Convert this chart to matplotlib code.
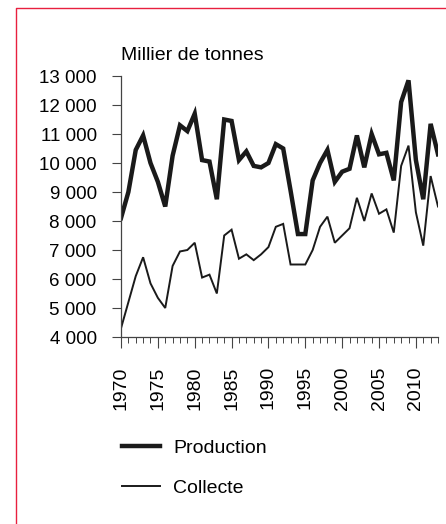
import numpy as np
import matplotlib.pyplot as plt
from matplotlib.ticker import MultipleLocator, FuncFormatter
from matplotlib.lines import Line2D

plt.rcParams['font.family'] = ['Liberation Sans', 'DejaVu Sans']

years = list(range(1970, 2014))
production = [8100, 9000, 10450, 10950, 10000, 9350, 8500, 10250, 11300, 11100,
              11700, 10100, 10050, 8750, 11500, 11450, 10100, 10400, 9900, 9850,
              10000, 10650, 10500, 9050, 7550, 7550, 9400, 10000, 10450, 9350,
              9700, 9800, 10950, 9850, 11000, 10300, 10350, 9400, 12100, 12850,
              10100, 8750, 11350, 10300]
collecte = [4300, 5200, 6100, 6750, 5850, 5350, 5000, 6450, 6950, 7000,
            7250, 6050, 6150, 5500, 7500, 7700, 6700, 6850, 6650, 6850,
            7100, 7800, 7900, 6500, 6500, 6500, 7000, 7800, 8150, 7250,
            7500, 7750, 8800, 8000, 8950, 8250, 8400, 7600, 9900, 10600,
            8300, 7150, 9550, 8500]

W, H = 446, 524
fig = plt.figure(figsize=(W / 100, H / 100), dpi=100)
ax = fig.add_axes([121 / W, 1 - 337 / H, (438 - 121) / W, (337 - 76) / H])

ink = '#1a1a1a'
ax.plot(years, production, color=ink, lw=3.2, solid_joinstyle='miter', label='Production')
ax.plot(years, collecte, color=ink, lw=1.4, solid_joinstyle='miter', label='Collecte')

ax.set_xlim(1970, 2013)
ax.set_ylim(4000, 13000)

for side in ['top', 'right']:
    ax.spines[side].set_visible(False)
for side in ['left', 'bottom']:
    ax.spines[side].set_color('#444444')
    ax.spines[side].set_linewidth(0.9)

ax.yaxis.set_major_locator(MultipleLocator(1000))
ax.yaxis.set_major_formatter(FuncFormatter(lambda v, p: f'{v:,.0f}'.replace(',', ' ')))
ax.xaxis.set_major_locator(MultipleLocator(5))
ax.xaxis.set_minor_locator(MultipleLocator(1))

ax.tick_params(axis='y', which='major', direction='out', length=6.5, width=0.8,
               color='#444444', labelsize=13.5, pad=11)
ax.tick_params(axis='x', which='major', direction='out', length=8, width=0.8,
               color='#444444', labelsize=14, pad=13, labelrotation=90)
ax.tick_params(axis='x', which='minor', direction='out', length=4, width=0.7,
               color='#444444')

fig.text(121 / W, 1 - 60 / H, 'Millier de tonnes', fontsize=14, va='baseline', ha='left')

fig.legend(loc='upper left', bbox_to_anchor=(104 / W, 1 - 422 / H), frameon=False,
           fontsize=14, handlelength=2.0, handletextpad=0.65, labelspacing=1.15)

# red frame
fig.add_artist(Line2D([16 / W, 16 / W, 1], [0, 1 - 8 / H, 1 - 8 / H],
                      transform=fig.transFigure, color='#e8203f', lw=1.0))

plt.savefig('out.png', dpi=100)
